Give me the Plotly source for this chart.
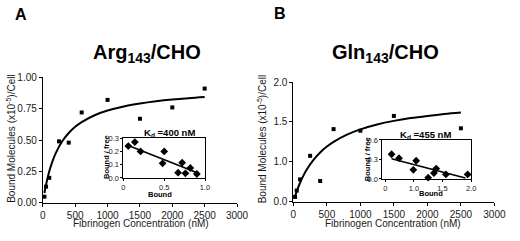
import plotly.graph_objects as go

# ---------------- data ----------------
conc_a = [25, 50, 100, 250, 400, 600, 1000, 1500, 2000, 2500]
bound_a = [0.05, 0.13, 0.20, 0.49, 0.48, 0.72, 0.82, 0.67, 0.76, 0.91]
fit_x_a = [25, 50, 100, 150, 200, 300, 400, 500, 600, 800, 1000, 1250, 1500, 1750, 2000, 2250, 2500]
fit_y_a = [0.079, 0.146, 0.252, 0.333, 0.397, 0.491, 0.557, 0.606, 0.643, 0.698, 0.735, 0.768, 0.791, 0.809, 0.823, 0.834, 0.843]

conc_b = [25, 50, 100, 250, 400, 600, 1000, 1500, 2500]
bound_b = [0.56, 0.64, 0.78, 1.075, 0.76, 1.41, 1.39, 1.575, 1.42]
fit_x_b = [20, 50, 100, 150, 200, 300, 400, 500, 600, 800, 1000, 1250, 1500, 1750, 2000, 2250, 2500]
fit_y_b = [0.556, 0.631, 0.738, 0.827, 0.903, 1.025, 1.118, 1.191, 1.251, 1.341, 1.407, 1.468, 1.513, 1.548, 1.575, 1.598, 1.617]

sc_bound_a = [0.06, 0.14, 0.21, 0.48, 0.50, 0.67, 0.72, 0.76, 0.82, 0.90]
sc_ratio_a = [0.24, 0.27, 0.20, 0.11, 0.20, 0.04, 0.115, 0.035, 0.075, 0.03]
sc_line_x_a = [0.06, 0.92]
sc_line_y_a = [0.245, 0.035]

sc_bound_b = [0.61, 0.74, 1.04, 0.99, 1.25, 1.35, 1.39, 1.56, 1.94]
sc_ratio_b = [0.38, 0.32, 0.28, 0.14, 0.02, 0.09, 0.16, 0.07, 0.07]
sc_line_x_b = [0.61, 1.90]
sc_line_y_b = [0.31, 0.015]

x_ticks_main = [0, 500, 1000, 1500, 2000, 2500, 3000]
y_ticks_a = [0, 0.25, 0.5, 0.75, 1.0]
y_ticks_b = [0.5, 1.0, 1.5, 2.0]
y_ticktext_b = ["0.0", "1.0", "1.5", "2.0"]
inset_a_xticks = [0, 0.5, 1.0]
inset_a_xtext = ["0", "0.5", "1.0"]
inset_a_yticks = [0, 0.1, 0.2, 0.3]
inset_b_xticks = [0.5, 1.0, 1.5, 2.0]
inset_b_xtext = ["0", "1.0", "1.5", "2.0"]
inset_b_yticks = [0, 0.3, 0.6]

W, H = 520, 241
FONT = "Liberation Sans, Arial, sans-serif"
TXT = "#1a1a1a"


def px(x):
    return x / W


def py(y):
    return 1 - y / H


fig = go.Figure()

mk_main = dict(symbol="square", size=4, color="black")
mk_in = dict(symbol="diamond", size=6, color="black")
ln_main = dict(color="black", width=2)
ln_in = dict(color="black", width=1.6)

fig.add_trace(go.Scatter(x=fit_x_a, y=fit_y_a, mode="lines", line_shape="spline", line=ln_main, xaxis="x", yaxis="y", cliponaxis=False))
fig.add_trace(go.Scatter(x=conc_a, y=bound_a, mode="markers", marker=mk_main, xaxis="x", yaxis="y", cliponaxis=False))
fig.add_trace(go.Scatter(x=fit_x_b, y=fit_y_b, mode="lines", line_shape="spline", line=ln_main, xaxis="x2", yaxis="y2", cliponaxis=False))
fig.add_trace(go.Scatter(x=conc_b, y=bound_b, mode="markers", marker=mk_main, xaxis="x2", yaxis="y2", cliponaxis=False))
fig.add_trace(go.Scatter(x=sc_line_x_a, y=sc_line_y_a, mode="lines", line=ln_in, xaxis="x3", yaxis="y3", cliponaxis=False))
fig.add_trace(go.Scatter(x=sc_bound_a, y=sc_ratio_a, mode="markers", marker=mk_in, xaxis="x3", yaxis="y3", cliponaxis=False))
fig.add_trace(go.Scatter(x=sc_line_x_b, y=sc_line_y_b, mode="lines", line=ln_in, xaxis="x4", yaxis="y4", cliponaxis=False))
fig.add_trace(go.Scatter(x=sc_bound_b, y=sc_ratio_b, mode="markers", marker=mk_in, xaxis="x4", yaxis="y4", cliponaxis=False))

main_ax = dict(showline=True, linecolor="black", linewidth=1, ticks="outside", ticklen=3,
               tickcolor="black", showgrid=False, zeroline=False,
               tickfont=dict(family=FONT, size=10, color=TXT))
in_ax = dict(showline=True, linecolor="black", linewidth=1, ticks="outside", ticklen=2,
             tickcolor="black", showgrid=False, zeroline=False, mirror=True,
             tickfont=dict(family=FONT, size=7.5, color=TXT))

fig.update_layout(
    width=W, height=H,
    margin=dict(l=0, r=0, t=0, b=0),
    paper_bgcolor="white", plot_bgcolor="rgba(0,0,0,0)",
    showlegend=False,
    xaxis=dict(main_ax, domain=[px(41), px(241)], range=[0, 3000], tickvals=x_ticks_main, anchor="y"),
    yaxis=dict(main_ax, domain=[py(207.3), py(75)], range=[0, 1.0], tickvals=y_ticks_a, tickformat=".2f", anchor="x"),
    xaxis2=dict(main_ax, domain=[px(299), px(506)], range=[0, 3000], tickvals=x_ticks_main, anchor="y2"),
    yaxis2=dict(main_ax, domain=[py(206), py(80)], range=[0.5, 2.0], tickvals=y_ticks_b, ticktext=y_ticktext_b, anchor="x2"),
    xaxis3=dict(in_ax, domain=[px(124), px(208)], range=[0, 1.0], tickvals=inset_a_xticks, ticktext=inset_a_xtext, anchor="y3"),
    yaxis3=dict(in_ax, domain=[py(181), py(139)], range=[0, 0.3], tickvals=inset_a_yticks, tickformat=".1f", anchor="x3"),
    xaxis4=dict(in_ax, domain=[px(390.7), px(482)], range=[0.45, 2.0], tickvals=inset_b_xticks, ticktext=inset_b_xtext, anchor="y4"),
    yaxis4=dict(in_ax, domain=[py(182), py(141)], range=[0, 0.6], tickvals=inset_b_yticks, tickformat=".1f", anchor="x4"),
)

ann = []


def text(x, y, s, size, bold=False, angle=0, color="black"):
    ann.append(dict(x=px(x), y=py(y), xref="paper", yref="paper", text=("<b>%s</b>" % s) if bold else s,
                    showarrow=False, xanchor="center", yanchor="middle", textangle=angle,
                    font=dict(family=FONT, size=size, color=color)))


text(19, 9, "A", 16, bold=True)
text(285, 8, "B", 16, bold=True)
text(148, 50, "Arg<sub>143</sub>/CHO", 20, bold=True)
text(394, 50, "Gln<sub>143</sub>/CHO", 20, bold=True)
text(142, 228.5, "Fibrinogen Concentration (nM)", 10, color=TXT)
text(402, 228.5, "Fibrinogen Concentration (nM)", 10, color=TXT)
text(8, 139, "Bound Molecules (x10<sup>-5</sup>)/Cell", 10, angle=-90, color=TXT)
text(267, 140, "Bound Molecules (x10<sup>-5</sup>)/Cell", 10, angle=-90, color=TXT)
text(171, 134, "K<sub>d</sub> =400 nM", 9.5, bold=True)
text(435, 136, "K<sub>d</sub> =455 nM", 9.5, bold=True)
text(106, 159, "Bound / free", 7.5, bold=True, angle=-90)
text(376, 161, "Bound / free", 7.5, bold=True, angle=-90)
text(162, 198, "Bound", 7.5, bold=True)
text(441, 197, "Bound", 7.5, bold=True)

fig.update_layout(annotations=ann)
fig.write_html("out.html", config={"displayModeBar": False},
               post_script="document.body.style.margin='0';document.body.style.padding='0';")
